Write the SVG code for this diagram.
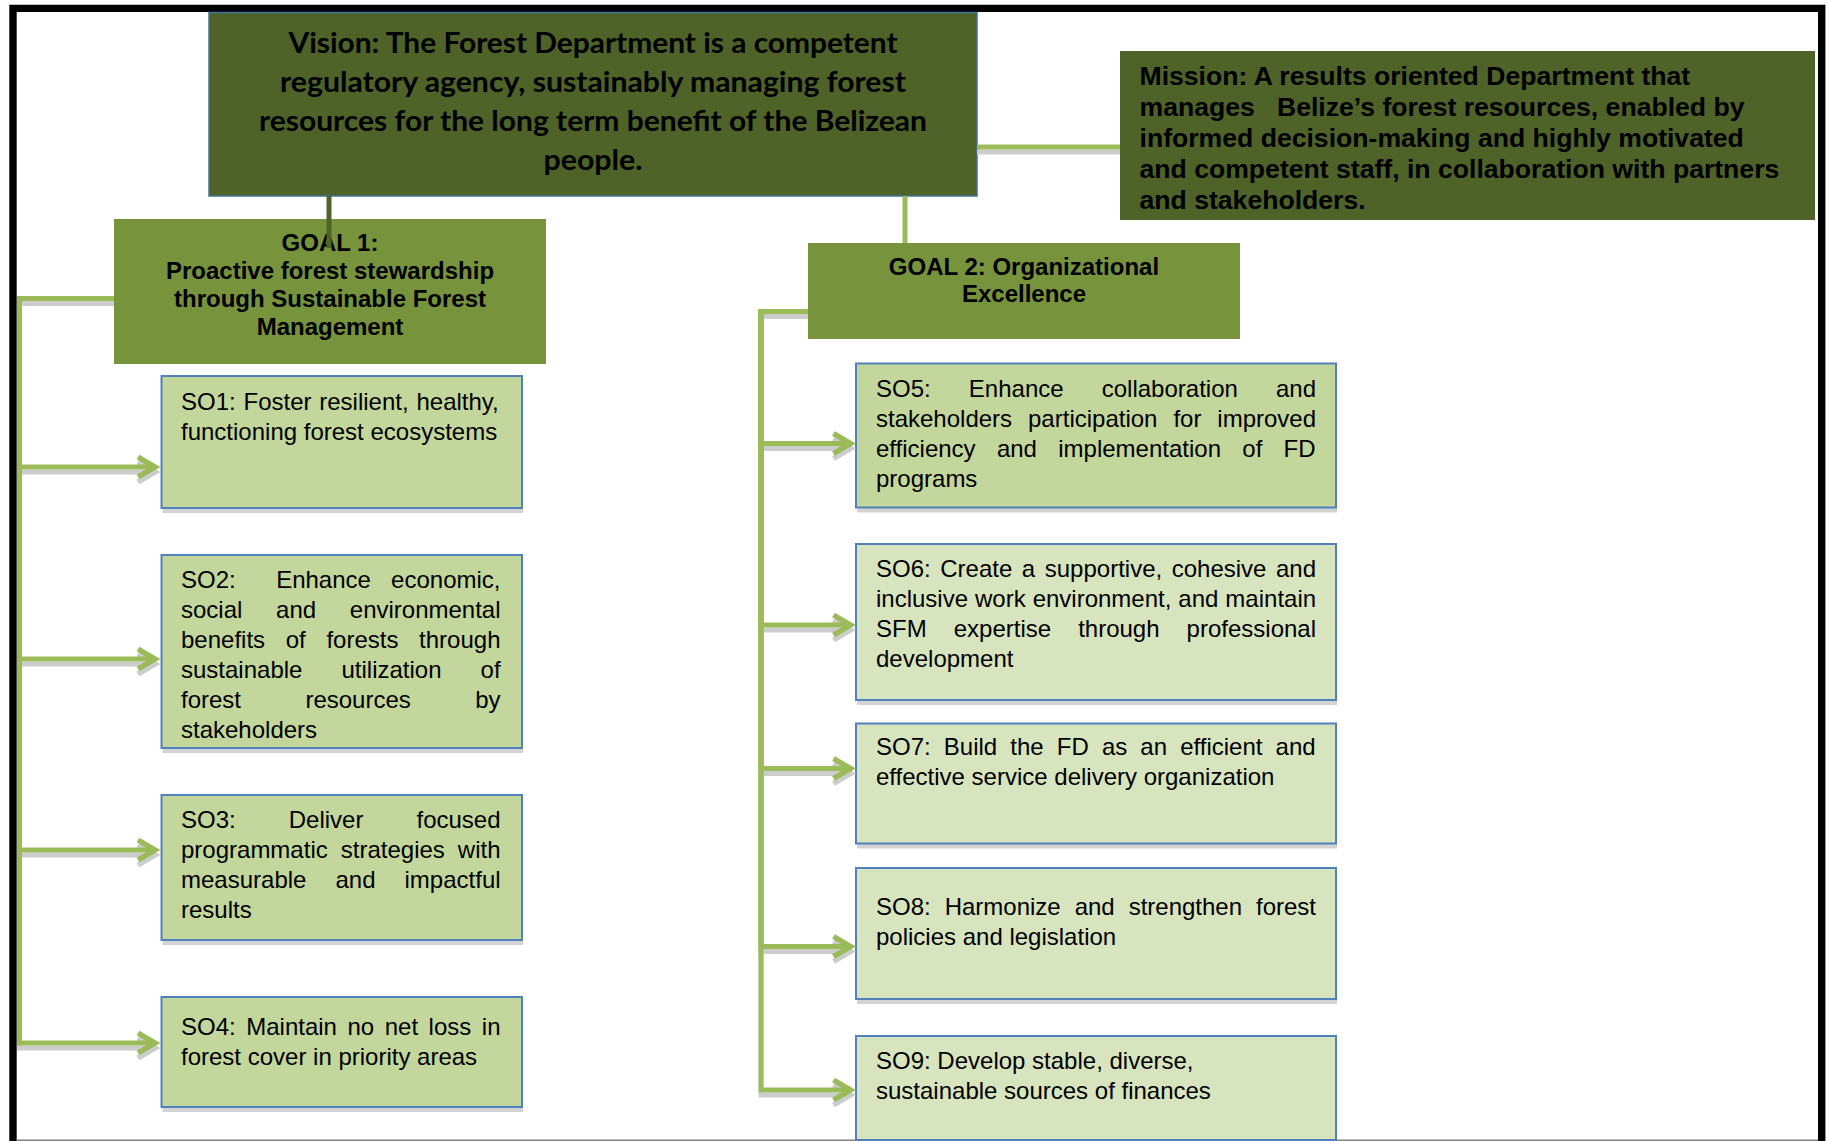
<svg xmlns="http://www.w3.org/2000/svg" width="1829" height="1141" viewBox="0 0 1829 1141">
<style>
.so{font-family:"Liberation Sans",Arial,sans-serif;font-size:24px;fill:#000}
.goal{font-family:"Liberation Sans",Arial,sans-serif;font-size:24px;font-weight:bold;text-anchor:middle;fill:#000}
.mis{font-family:"Liberation Sans",Arial,sans-serif;font-size:26.6px;font-weight:bold;fill:#000}
.vis{font-family:Lato,"Liberation Sans",sans-serif;font-size:28.5px;font-weight:bold;text-anchor:middle;fill:#000}
.boxA{fill:#C3D69B;stroke:#4F81BD;stroke-width:2}
.boxB{fill:#D7E4BD;stroke:#4F81BD;stroke-width:2}
.bsh{fill:#D3D3D3}
.dark{fill:#4F6228}
.gfill{fill:#77933C}
.conn{fill:none;stroke:#9BBB59;stroke-width:5}
.connsh{fill:none;stroke:#CCCCCC;stroke-width:5}
</style>
<defs>
<marker id="ah" markerUnits="userSpaceOnUse" markerWidth="30" markerHeight="30" viewBox="-25 -15 30 30" refX="0" refY="0" orient="auto" overflow="visible">
<path d="M-17,-10 L0,0 L-17,10" fill="none" stroke="#9BBB59" stroke-width="5.5" stroke-linejoin="miter"/>
</marker>
<marker id="ahs" markerUnits="userSpaceOnUse" markerWidth="30" markerHeight="30" viewBox="-25 -15 30 30" refX="0" refY="0" orient="auto" overflow="visible">
<path d="M-17,-10 L0,0 L-17,10" fill="none" stroke="#CCCCCC" stroke-width="5.5" stroke-linejoin="miter"/>
</marker>
</defs>
<rect x="0" y="0" width="1829" height="1141" fill="#FFFFFF"/>
<g id="frame">
<path d="M13,1141 V8.4 H1821.7 V1141" fill="none" stroke="#000" stroke-width="7.4" stroke-linejoin="miter"/>
<line x1="16.7" y1="1140.3" x2="1818" y2="1140.3" stroke="#7F7F7F" stroke-width="1.5"/>
</g>
<g id="vision">
<rect x="209" y="12.5" width="768" height="183.5" class="dark" stroke="#41719C" stroke-width="1.5"/>
<text class="vis" x="593" y="53" textLength="609" lengthAdjust="spacingAndGlyphs">Vision: The Forest Department is a competent</text>
<text class="vis" x="593" y="92" textLength="626" lengthAdjust="spacingAndGlyphs">regulatory agency, sustainably managing forest</text>
<text class="vis" x="593" y="131" textLength="668" lengthAdjust="spacingAndGlyphs">resources for the long term benefit of the Belizean</text>
<text class="vis" x="593" y="170" textLength="99" lengthAdjust="spacingAndGlyphs">people.</text>
</g>
<g id="mission">
<rect x="1120" y="51" width="695" height="169" class="dark"/>
<text class="mis" x="1139.5" y="85">Mission: A results oriented Department that</text>
<text class="mis" x="1139.5" y="116" xml:space="preserve">manages   Belize’s forest resources, enabled by</text>
<text class="mis" x="1139.5" y="147">informed decision-making and highly motivated</text>
<text class="mis" x="1139.5" y="177.6">and competent staff, in collaboration with partners</text>
<text class="mis" x="1139.5" y="208.5">and stakeholders.</text>
</g>
<g id="goal1">
<rect x="114" y="219" width="432" height="145" class="gfill"/>
<text class="goal" x="330" y="251">GOAL 1:</text>
<text class="goal" x="330" y="278.5">Proactive forest stewardship</text>
<text class="goal" x="330" y="306.5">through Sustainable Forest</text>
<text class="goal" x="330" y="334.5">Management</text>
</g>
<g id="goal2">
<rect x="808" y="243" width="432" height="96" class="gfill"/>
<text class="goal" x="1024" y="275">GOAL 2: Organizational</text>
<text class="goal" x="1024" y="302">Excellence</text>
</g>
<g id="so1">
<rect x="162.5" y="381" width="360.5" height="132" class="bsh"/>
<rect x="161.5" y="376" width="360.5" height="132" class="boxA"/>
<text class="so" x="181" y="410" word-spacing="1.12">SO1: Foster resilient, healthy,</text>
<text class="so" x="181" y="440">functioning forest ecosystems</text>
</g>
<g id="so2">
<rect x="162.5" y="560" width="360.5" height="193" class="bsh"/>
<rect x="161.5" y="555" width="360.5" height="193" class="boxA"/>
<text class="so" x="181" y="588" word-spacing="13.56" xml:space="preserve">SO2:  Enhance economic,</text>
<text class="so" x="181" y="618" word-spacing="27.03">social and environmental</text>
<text class="so" x="181" y="648" word-spacing="14.0">benefits of forests through</text>
<text class="so" x="181" y="678" word-spacing="32.36">sustainable utilization of</text>
<text class="so" x="181" y="708" word-spacing="57.71">forest resources by</text>
<text class="so" x="181" y="738">stakeholders</text>
</g>
<g id="so3">
<rect x="162.5" y="800" width="360.5" height="145" class="bsh"/>
<rect x="161.5" y="795" width="360.5" height="145" class="boxA"/>
<text class="so" x="181" y="828" word-spacing="46.38">SO3: Deliver focused</text>
<text class="so" x="181" y="858" word-spacing="6.38">programmatic strategies with</text>
<text class="so" x="181" y="888" word-spacing="22.37">measurable and impactful</text>
<text class="so" x="181" y="918">results</text>
</g>
<g id="so4">
<rect x="162.5" y="1002" width="360.5" height="110" class="bsh"/>
<rect x="161.5" y="997" width="360.5" height="110" class="boxA"/>
<text class="so" x="181" y="1035" word-spacing="3.87">SO4: Maintain no net loss in</text>
<text class="so" x="181" y="1065">forest cover in priority areas</text>
</g>
<g id="so5">
<rect x="857" y="368.5" width="480" height="144" class="bsh"/>
<rect x="856" y="363.5" width="480" height="144" class="boxA"/>
<text class="so" x="876" y="397" word-spacing="31.49">SO5: Enhance collaboration and</text>
<text class="so" x="876" y="427" word-spacing="9.28">stakeholders participation for improved</text>
<text class="so" x="876" y="457" word-spacing="14.63">efficiency and implementation of FD</text>
<text class="so" x="876" y="487">programs</text>
</g>
<g id="so6">
<rect x="857" y="549" width="480" height="156" class="bsh"/>
<rect x="856" y="544" width="480" height="156" class="boxB"/>
<text class="so" x="876" y="577" word-spacing="2.89">SO6: Create a supportive, cohesive and</text>
<text class="so" x="876" y="607" word-spacing="0.3">inclusive work environment, and maintain</text>
<text class="so" x="876" y="637" word-spacing="20.39">SFM expertise through professional</text>
<text class="so" x="876" y="667">development</text>
</g>
<g id="so7">
<rect x="857" y="728.5" width="480" height="120" class="bsh"/>
<rect x="856" y="723.5" width="480" height="120" class="boxB"/>
<text class="so" x="876" y="755" word-spacing="6.45">SO7: Build the FD as an efficient and</text>
<text class="so" x="876" y="785">effective service delivery organization</text>
</g>
<g id="so8">
<rect x="857" y="873" width="480" height="131" class="bsh"/>
<rect x="856" y="868" width="480" height="131" class="boxB"/>
<text class="so" x="876" y="915" word-spacing="7.29">SO8: Harmonize and strengthen forest</text>
<text class="so" x="876" y="945">policies and legislation</text>
</g>
<g id="so9">
<rect x="856" y="1036" width="480" height="104" class="boxB"/>
<text class="so" x="876" y="1069">SO9: Develop stable, diverse,</text>
<text class="so" x="876" y="1099">sustainable sources of finances</text>
</g>
<g id="connectors">
<g id="shadows">
<path class="connsh" d="M114,303.5 H19.5 V472 H155" marker-end="url(#ahs)"/>
<path class="connsh" d="M114,303.5 H19.5 V664 H155" marker-end="url(#ahs)"/>
<path class="connsh" d="M114,303.5 H19.5 V855 H155" marker-end="url(#ahs)"/>
<path class="connsh" d="M114,303.5 H19.5 V1048 H155" marker-end="url(#ahs)"/>
<path class="connsh" d="M808,316.5 H761 V448.5 H850.5" marker-end="url(#ahs)"/>
<path class="connsh" d="M808,316.5 H761 V630 H850.5" marker-end="url(#ahs)"/>
<path class="connsh" d="M808,316.5 H761 V773.5 H850.5" marker-end="url(#ahs)"/>
<path class="connsh" d="M808,316.5 H761 V951.5 H850.5" marker-end="url(#ahs)"/>
<path class="connsh" d="M808,316.5 H761 V1095 H850.5" marker-end="url(#ahs)"/>
<path class="connsh" d="M977,152 H1120" stroke-width="4.5"/>
</g>
<path class="conn" d="M114,298.5 H19.5 V467 H155" marker-end="url(#ah)"/>
<path class="conn" d="M114,298.5 H19.5 V659 H155" marker-end="url(#ah)"/>
<path class="conn" d="M114,298.5 H19.5 V850 H155" marker-end="url(#ah)"/>
<path class="conn" d="M114,298.5 H19.5 V1043 H155" marker-end="url(#ah)"/>
<path class="conn" d="M808,311.5 H761 V443.5 H850.5" marker-end="url(#ah)"/>
<path class="conn" d="M808,311.5 H761 V625 H850.5" marker-end="url(#ah)"/>
<path class="conn" d="M808,311.5 H761 V768.5 H850.5" marker-end="url(#ah)"/>
<path class="conn" d="M808,311.5 H761 V946.5 H850.5" marker-end="url(#ah)"/>
<path class="conn" d="M808,311.5 H761 V1090 H850.5" marker-end="url(#ah)"/>
<path d="M329,196 V248" fill="none" stroke="#4F6228" stroke-width="5"/>
<path class="conn" d="M905,196 V243" stroke-width="4.5"/>
<path class="conn" d="M977,147 H1120" stroke-width="4.5"/>
</g>
</svg>
